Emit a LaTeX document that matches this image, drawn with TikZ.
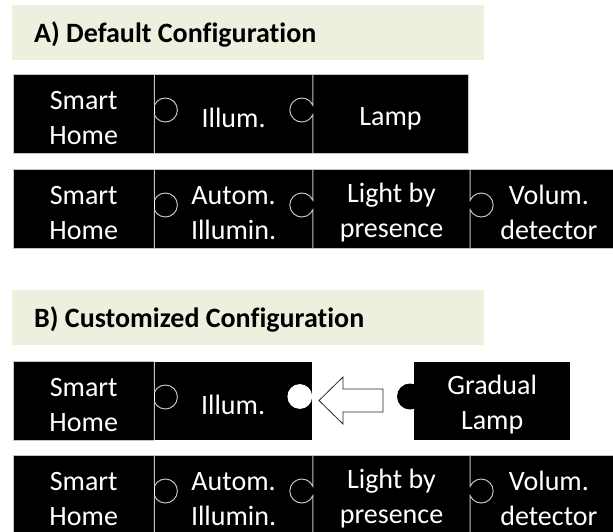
\documentclass[tikz,border=0pt]{standalone}
\usepackage{fontspec}
\setmainfont{Carlito}[Ligatures={NoCommon}]
\usetikzlibrary{calc}

\definecolor{bandgreen}{HTML}{EBF1DE}
\definecolor{seamgray}{HTML}{C4C4C4}

% body and heading type
\newcommand\bodyfont{\fontsize{28}{35}\selectfont}
\newcommand\headfont{\bfseries\fontsize{28}{34}\selectfont}
% line strut so every piece has the same text box
\newcommand\lh{\rule[-1pt]{0pt}{28pt}}

% seam with a knob bulging to the right / to the left of node #1's east side
\newcommand\seamR[1]{\draw[seam] (#1.north east) -- ([yshift=8.8pt]#1.east)
  arc[start angle=156.4, end angle=-156.4, radius=12pt] -- (#1.south east);}
\newcommand\seamL[1]{\draw[seam] (#1.north east) -- ([yshift=8.8pt]#1.east)
  arc[start angle=23.6, end angle=336.4, radius=12pt] -- (#1.south east);}

\tikzset{
  piece/.style={fill=black, text=white, inner sep=0pt, minimum height=78pt,
    align=center, font=\bodyfont, anchor=west},
  seam/.style={draw=seamgray, line width=1pt},
  band/.style={fill=bandgreen},
  heading/.style={anchor=base west, inner sep=0pt, font=\headfont, text=black},
  blockarrow/.style={draw=black!85, fill=white, line width=0.8pt, line join=miter},
}

\begin{document}
\begin{tikzpicture}[x=1pt, y=-1pt]
\useasboundingbox (0,0) rectangle (613,531);

% ---------- A) default configuration ----------
\fill[band] (12,5) rectangle (484,60);
\node[heading] (hA) at (34,42) {A) Default Configuration};

% row 1
\node[piece, minimum width=141pt] (sh1) at (13,114) {\lh Smart\\\lh Home};
\node[piece, minimum width=158pt] (il1) at (sh1.east) {\lh Illum.};
\node[piece, minimum width=155pt] (lp1) at (il1.east) {\lh Lamp};
\draw[seam] (sh1.north west) rectangle (lp1.south east);
\seamR{sh1}
\seamL{il1}

% row 2
\node[piece, minimum width=141pt] (sh2) at (13,209) {\lh Smart\\\lh Home};
\node[piece, minimum width=158pt] (ai2) at (sh2.east) {\lh Autom.\\\lh Illumin.};
\node[piece, minimum width=157pt] (lb2) at (ai2.east) {\lh Light by\\\lh presence};
\node[piece, minimum width=157pt] (vd2) at (lb2.east) {\lh Volum.\\\lh detector};
\draw[seam] (sh2.north west) rectangle (vd2.south east);
\seamR{sh2}
\seamL{ai2}
\seamR{lb2}

% ---------- B) customized configuration ----------
\fill[band] (12,290) rectangle (484,345);
\node[heading] (hB) at (34,327) {B) Customized Configuration};

% row 3
\node[piece, minimum width=141pt] (sh3) at (13,401) {\lh Smart\\\lh Home};
\node[piece, minimum width=157pt] (il3) at (sh3.east) {\lh Illum.};
\node[piece, minimum width=156pt] (gl3) at (414,401) {\lh Gradual\\\lh Lamp};
\draw[seam] (sh3.north east) -- (sh3.north west) -- (sh3.south west) -- (sh3.south east);
\seamR{sh3}
% open socket on Illum. and the knob of Gradual Lamp
\fill[white] ([xshift=-12pt, yshift=4.5pt]il3.east) circle[radius=12.4pt];
\fill[black] ([xshift=-4pt, yshift=4.5pt]gl3.west) circle[radius=13pt];
% replacement arrow
\draw[blockarrow] (319,400.5) -- (343,377) -- (343,389) -- (383,389)
  -- (383,412) -- (343,412) -- (343,424) -- cycle;

% row 4
\node[piece, minimum width=141pt] (sh4) at (13,495) {\lh Smart\\\lh Home};
\node[piece, minimum width=158pt] (ai4) at (sh4.east) {\lh Autom.\\\lh Illumin.};
\node[piece, minimum width=157pt] (lb4) at (ai4.east) {\lh Light by\\\lh presence};
\node[piece, minimum width=157pt] (vd4) at (lb4.east) {\lh Volum.\\\lh detector};
\draw[seam] (sh4.north west) rectangle (vd4.south east);
\seamR{sh4}
\seamL{ai4}
\seamR{lb4}
\end{tikzpicture}
\end{document}
